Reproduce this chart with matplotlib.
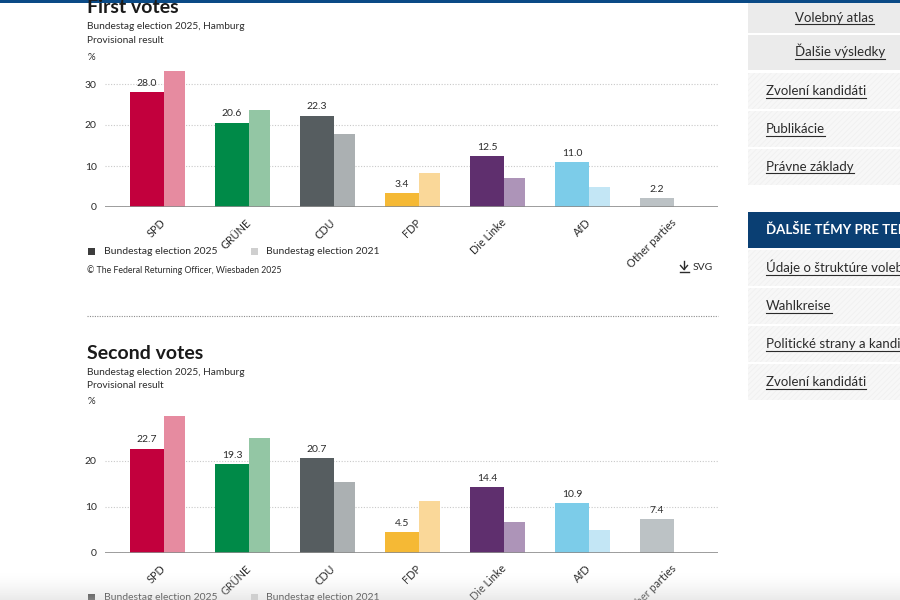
import matplotlib.pyplot as plt
import matplotlib
import numpy as np
from matplotlib.patches import Rectangle
from matplotlib.lines import Line2D

matplotlib.rcParams['font.family'] = ['Lato', 'DejaVu Sans']

parties = ['SPD', 'GRÜNE', 'CDU', 'FDP', 'Die Linke', 'AfD', 'Other parties']
first_2025 = [28.0, 20.6, 22.3, 3.4, 12.5, 11.0, 2.2]
first_2021 = [33.2, 23.7, 17.8, 8.3, 7.1, 4.9, np.nan]
second_2025 = [22.7, 19.3, 20.7, 4.5, 14.4, 10.9, 7.4]
second_2021 = [29.7, 24.9, 15.4, 11.4, 6.7, 5.0, np.nan]

colors_2025 = ['#c2003d', '#008a48', '#565d60', '#f5b935', '#5f2f6e', '#7ccce9', '#bcc2c5']
colors_2021 = ['#e68ba0', '#93c6a4', '#abb0b2', '#fad899', '#ad94b8', '#c3e6f5', '#dde0e2']

sidebar_items = ['Volebný atlas', 'Ďalšie výsledky', 'Zvolení kandidáti', 'Publikácie',
                 'Právne základy']
sidebar_header = 'ĎALŠIE TÉMY PRE TEMU'
sidebar_items2 = ['Údaje o štruktúre volebných obvodov', 'Wahlkreise',
                  'Politické strany a kandidáti', 'Zvolení kandidáti']

W, H = 900, 600
fig = plt.figure(figsize=(9, 6), dpi=100)
fig.patch.set_facecolor('white')
TXT = '#2b2b2b'


def fx(x):
    return x / W


def fy(y):
    return 1 - y / H


def ftext(x, y, s, **kw):
    kw.setdefault('color', TXT)
    return fig.text(fx(x), fy(y), s, **kw)


def frect(x0, y0, x1, y1, **kw):
    r = Rectangle((fx(x0), fy(y1)), fx(x1) - fx(x0), (y1 - y0) / H,
                  transform=fig.transFigure, **kw)
    fig.add_artist(r)
    return r


def draw_chart(base_px, px_per_unit, ymax, yticks, v2025, v2021):
    left, right = 105, 718
    height = ymax * px_per_unit
    ax = fig.add_axes([fx(left), fy(base_px), (right - left) / W, height / H])
    x = np.arange(len(parties))
    # 2025 bars: 34 px wide, 2021 bars: 21 px wide, group step 85 px
    ax.bar(x, v2025, width=0.4, color=colors_2025, zorder=3)
    ax.bar(x + 0.2, v2021, width=0.247, align='edge', color=colors_2021, zorder=2)
    for xi, v in zip(x, v2025):
        ax.annotate(f'{v:.1f}', (xi, v), xytext=(0, 3), textcoords='offset points',
                    ha='center', va='bottom', fontsize=7.5, color=TXT, zorder=4)
    ax.set_xlim((left - 147) / 85, (right - 147) / 85)
    ax.set_ylim(0, ymax)
    ax.set_yticks(yticks)
    ax.yaxis.grid(True, ls=(0, (1, 1.5)), color='#c9c9c9', lw=0.8, zorder=0)
    ax.axhline(0, color='#8c8c8c', lw=1.2, zorder=5)
    for s in ax.spines.values():
        s.set_visible(False)
    ax.set_xticks(x + 0.2, parties, rotation=45, ha='right', va='center',
                  rotation_mode='anchor', fontsize=7.8, color=TXT)
    ax.tick_params(axis='x', length=0, pad=10)
    ax.tick_params(axis='y', length=0, pad=6, labelsize=7.5, labelcolor=TXT)
    ax.set_facecolor('none')
    return ax


# top blue bar
frect(0, 0, 900, 2.5, color='#0a4a86', lw=0)

# ---------- First votes ----------
ftext(87, 13, 'First votes', fontsize=14, fontweight='bold', va='baseline', color='#1a1a1a')
ftext(87, 29, 'Bundestag election 2025, Hamburg', fontsize=7.3, va='baseline')
ftext(87, 43, 'Provisional result', fontsize=7.3, va='baseline')
ftext(88, 57, '%', fontsize=7, va='center')
draw_chart(207, 4.1, 34, [0, 10, 20, 30], first_2025, first_2021)

frect(88, 248, 95, 255, color='#3c3c3c', lw=0)
ftext(104, 252, 'Bundestag election 2025', fontsize=7.5, va='center')
frect(251, 248, 258, 255, color='#cfcfcf', lw=0)
ftext(266, 252, 'Bundestag election 2021', fontsize=7.5, va='center')
ftext(87, 270, '© The Federal Returning Officer, Wiesbaden 2025', fontsize=6.3, va='center')

# download icon + SVG
fig.add_artist(Line2D([fx(684), fx(684)], [fy(261), fy(269)], color=TXT, lw=1))
fig.add_artist(Line2D([fx(680.5), fx(684), fx(687.5)], [fy(265.5), fy(269.5), fy(265.5)],
                      color=TXT, lw=1))
fig.add_artist(Line2D([fx(679.5), fx(688.5)], [fy(272), fy(272)], color=TXT, lw=1))
ftext(693, 267, 'SVG', fontsize=7.5, va='center')

# dotted separator
fig.add_artist(Line2D([fx(87), fx(718)], [fy(316), fy(316)], color='#8c8c8c',
                      lw=0.8, ls=(0, (1, 1.2))))

# ---------- Second votes ----------
ftext(87, 359, 'Second votes', fontsize=14, fontweight='bold', va='baseline', color='#1a1a1a')
ftext(87, 375, 'Bundestag election 2025, Hamburg', fontsize=7.3, va='baseline')
ftext(87, 388, 'Provisional result', fontsize=7.3, va='baseline')
ftext(88, 402, '%', fontsize=7, va='center')
draw_chart(553, 4.6, 30, [0, 10, 20], second_2025, second_2021)

frect(88, 594, 95, 601, color='#3c3c3c', lw=0)
ftext(104, 598, 'Bundestag election 2025', fontsize=7.5, va='center')
frect(251, 594, 258, 601, color='#cfcfcf', lw=0)
ftext(266, 598, 'Bundestag election 2021', fontsize=7.5, va='center')

# ---------- sidebar ----------
plt.rcParams['hatch.linewidth'] = 0.5
boxes_top = [(2.5, 33), (35, 70)]
boxes_hatch = [(73, 109), (111, 147), (149, 185)]
boxes_hatch2 = [(250, 286), (288, 324), (326, 362), (364, 400)]
for y0, y1 in boxes_top:
    frect(748, y0, 900, y1, facecolor='#ebebeb', lw=0)
for y0, y1 in boxes_hatch + boxes_hatch2:
    frect(748, y0, 900, y1, facecolor='#f7f7f7', edgecolor='#efefef', hatch='//////', lw=0)
frect(748, 212, 900, 248, facecolor='#0a3f73', lw=0)

link_texts = []
for label, (y0, y1) in zip(sidebar_items[:2], boxes_top):
    link_texts.append(ftext(795, (y0 + y1) / 2 + 4, label, fontsize=9.5, va='baseline'))
for label, (y0, y1) in zip(sidebar_items[2:], boxes_hatch):
    link_texts.append(ftext(766, (y0 + y1) / 2 + 4, label, fontsize=9.5, va='baseline'))
ftext(766, 234, sidebar_header, fontsize=9.5, fontweight='bold', va='baseline', color='white')
for label, (y0, y1) in zip(sidebar_items2, boxes_hatch2):
    link_texts.append(ftext(766, (y0 + y1) / 2 + 4, label, fontsize=9.5, va='baseline'))

# soft fade at the bottom edge of the screenshot
fade = fig.add_axes([0, 0, 1, 28 / H], zorder=10)
grad = np.linspace(0, 1, 50)[:, None] * np.ones((1, 10))
rgba = np.zeros((50, 10, 4))
rgba[..., :3] = 0.82
rgba[..., 3] = grad ** 1.5 * 0.45
fade.imshow(rgba, aspect='auto', origin='upper', extent=(0, 1, 0, 1))
fade.axis('off')

# underline the links
fig.canvas.draw()
renderer = fig.canvas.get_renderer()
for t in link_texts:
    bb = t.get_window_extent(renderer)
    xb, yb = t.get_position()
    ybase = yb - 2.5 / H
    fig.add_artist(Line2D([bb.x0 / W, bb.x1 / W], [ybase, ybase], color=TXT, lw=0.8))

plt.savefig('out.png', dpi=100)
